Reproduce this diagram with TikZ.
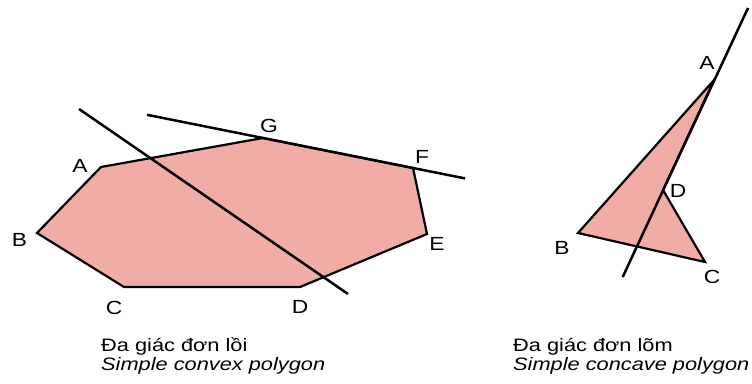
\documentclass[tikz,border=0pt]{standalone}
\usepackage{fontspec}
\newfontfamily\wf[FakeStretch=1.21]{Liberation Sans}
\newfontfamily\wl[FakeStretch=1.2]{Liberation Sans}
\definecolor{polypink}{RGB}{241,172,166}
\begin{document}
\begin{tikzpicture}[x=1pt,y=-1pt,
  poly/.style={fill=polypink,draw=black,line width=2.2pt,line join=miter},
  cutline/.style={draw=black,line width=2.5pt},
  lbl/.style={font=\wl\fontsize{19}{21}\selectfont,inner sep=0pt,anchor=center},
  captext/.style={font=\wf\fontsize{18}{20}\selectfont,inner sep=0pt,anchor=base west}]
\useasboundingbox (0,0) rectangle (752,383);
% convex polygon
\coordinate (cA) at (101,167);
\coordinate (cB) at (37,233);
\coordinate (cC) at (124,287);
\coordinate (cD) at (300,287);
\coordinate (cE) at (427,234);
\coordinate (cF) at (413,168);
\coordinate (cG) at (263,138);
\path[poly] (cA) -- (cB) -- (cC) -- (cD) -- (cE) -- (cF) -- (cG) -- cycle;
\coordinate (l1a) at (79,109);
\coordinate (l1b) at (348,294);
\draw[cutline] (l1a) -- (l1b);
\coordinate (l2a) at (147,114.8);
\coordinate (l2b) at (465,178.4);
\draw[cutline] (l2a) -- (l2b);
\node[lbl] (tA) at (80,166) {A};
\node[lbl] (tB) at (19.5,240) {B};
\node[lbl] (tC) at (114,308) {C};
\node[lbl] (tD) at (300,307) {D};
\node[lbl] (tE) at (437,244) {E};
\node[lbl] (tF) at (422,157) {F};
\node[lbl] (tG) at (269,126) {G};
% concave polygon
\coordinate (kA) at (714,80);
\coordinate (kB) at (578,233);
\coordinate (kC) at (705,262);
\coordinate (kD) at (663,190);
\path[poly] (kA) -- (kB) -- (kC) -- (kD) -- cycle;
\coordinate (l3a) at (622.7,277);
\coordinate (l3b) at (748,8);
\draw[cutline] (l3a) -- (l3b);
\node[lbl] (uA) at (707,63) {A};
\node[lbl] (uB) at (562,248) {B};
\node[lbl] (uC) at (712,277) {C};
\node[lbl] (uD) at (678,191) {D};
% captions
\node[captext] (c1) at (101,351) {Đa giác đơn lồi};
\node[captext] (c2) at (101,370) {\itshape Simple convex polygon};
\node[captext] (c3) at (513,351) {Đa giác đơn lõm};
\node[captext] (c4) at (513,370) {\itshape Simple concave polygon};
\end{tikzpicture}
\end{document}
